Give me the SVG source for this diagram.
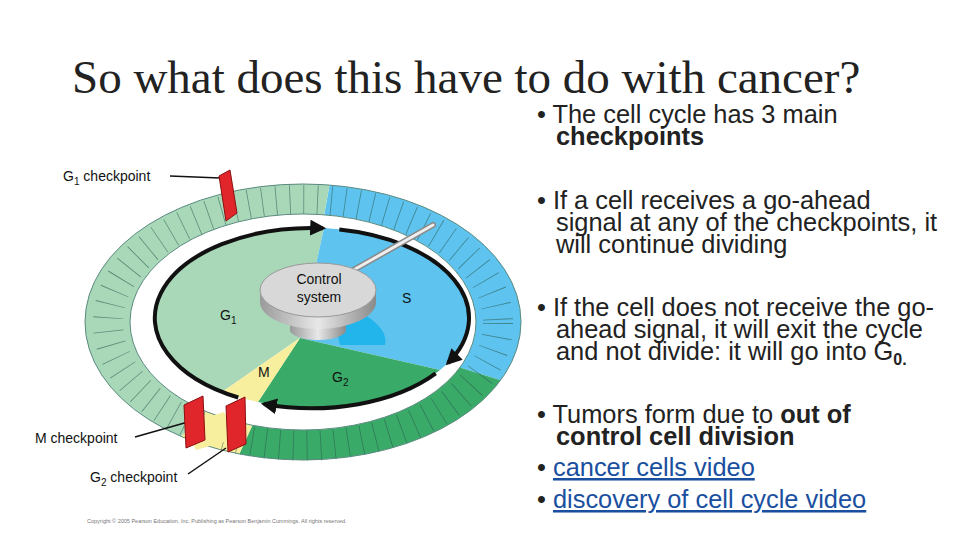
<svg xmlns="http://www.w3.org/2000/svg" width="960" height="540" viewBox="0 0 960 540">
<defs>
<style>
.t{font-family:"Liberation Sans",Arial,sans-serif;font-size:25.4px;fill:#222}
.b{font-weight:bold}
.lk{fill:#1a4fa0;text-decoration:underline}
.l{font-family:"Liberation Sans",Arial,sans-serif;font-size:14px;fill:#111}
.lead{stroke:#111;stroke-width:1.5;fill:none}
.flag{fill:#e0262a;stroke:#8a1010;stroke-width:1}
.arc{fill:none;stroke:#111;stroke-width:4}
</style>
<marker id="ah" viewBox="0 0 10 10" refX="8" refY="5" markerWidth="4" markerHeight="4" orient="auto"><path d="M0,0 L10,5 L0,10 Z" fill="#111"/></marker>
<linearGradient id="cyl" x1="0" x2="1"><stop offset="0" stop-color="#9a9a9a"/><stop offset="0.5" stop-color="#e8e8e8"/><stop offset="1" stop-color="#8a8a8a"/></linearGradient>
</defs>
<rect width="960" height="540" fill="#fff"/>
<text x="72" y="93" font-family="Liberation Serif,serif" font-size="47" fill="#222">So what does this have to do with cancer?</text>

<g id="ring">
<path d="M329.6,185 A218,138 0 0 1 500.6,380.3 L459.8,367.6 A173,108 0 0 0 324.1,214.8 Z" fill="#5ec3ee"/>
<path d="M500.6,380.3 A218,138 0 0 1 239.3,454 L252.4,425.3 A173,108 0 0 0 459.8,367.6 Z" fill="#3aaa68"/>
<path d="M239.3,454 A218,138 0 0 1 181.1,436.4 L206.3,411.5 A173,108 0 0 0 252.4,425.3 Z" fill="#f7ee9e"/>
<path d="M181.1,436.4 A218,138 0 0 1 329.6,185 L324.1,214.8 A173,108 0 0 0 206.3,411.5 Z" fill="#a8d8b8"/>
<ellipse cx="303" cy="323" rx="195" ry="123" fill="none" stroke="#2a5a50" stroke-width="30" stroke-dasharray="0.8 13" opacity="0.6"/>
<ellipse cx="303" cy="322" rx="218" ry="138" fill="none" stroke="#5a8a80" stroke-width="1"/>
<ellipse cx="303" cy="322" rx="173" ry="108" fill="#fff" stroke="#5a8a80" stroke-width="1"/>
</g>

<g id="pie">
<path d="M300,338 L222,392 A157,90 0 0 1 324,228 Z" fill="#a8d8b8"/>
<path d="M300,338 L324,228 A157,90 0 0 1 440,370 Z" fill="#5ec3ee"/>
<path d="M300,338 L440,370 A157,90 0 0 1 258,402 Z" fill="#3aaa68"/>
<path d="M300,338 L258,402 A157,90 0 0 1 222,392 Z" fill="#f7ee9e"/>
<path d="M330,300 Q390,320 385,345 L340,345 Z" fill="#22b5ec"/>
</g>

<g id="connectors">
<path class="arc" d="M238.3,397.5 A157,90 0 0 1 323,228.2" marker-end="url(#ah)"/>
<path class="arc" d="M339.3,229.4 A157,90 0 0 1 448,363" marker-end="url(#ah)"/>
<path class="arc" d="M435.7,373.4 A157,90 0 0 1 264,404" marker-end="url(#ah)"/>
<path class="lead" d="M170,176 L220,178"/>
<path class="lead" d="M135,437 L195,420"/>
<path class="lead" d="M188,474 L226,448"/>
</g>

<g id="control">
<line x1="350" y1="272" x2="433" y2="225" stroke="#888" stroke-width="6" stroke-linecap="round"/>
<line x1="350" y1="272" x2="433" y2="225" stroke="#eee" stroke-width="3" stroke-linecap="round"/>
<path d="M290,312 L290,330 A28,10 0 0 0 346,330 L346,312 Z" fill="url(#cyl)"/>
<path d="M260,290 L260,302 A58,27 0 0 0 376,302 L376,290 Z" fill="url(#cyl)"/>
<ellipse cx="318" cy="290" rx="58" ry="27" fill="#d8d8d8" stroke="#999" stroke-width="1"/>
<text class="l" x="319" y="284" text-anchor="middle">Control</text>
<text class="l" x="319" y="302" text-anchor="middle">system</text>
</g>

<g id="labels">
<text class="l" x="220" y="320">G<tspan font-size="10" dy="4">1</tspan></text>
<text class="l" x="402" y="303">S</text>
<text class="l" x="258" y="377">M</text>
<text class="l" x="332" y="382">G<tspan font-size="10" dy="4">2</tspan></text>
<text class="l" x="63" y="181">G<tspan font-size="10" dy="4">1</tspan><tspan dy="-4"> checkpoint</tspan></text>
<text class="l" x="35" y="443">M checkpoint</text>
<text class="l" x="90" y="482">G<tspan font-size="10" dy="4">2</tspan><tspan dy="-4"> checkpoint</tspan></text>
<text x="87" y="523" font-family="Liberation Sans,sans-serif" font-size="5.5" fill="#777">Copyright © 2005 Pearson Education, Inc. Publishing as Pearson Benjamin Cummings. All rights reserved.</text>
</g>

<g id="checkpoints">
<path class="flag" d="M219,176 L230,170 L237,213 L226,221 Z" fill="#e8503a"/>
<path d="M184,425 L224,412 L238,438 L196,450 Z" fill="#f7ee9e"/>
<path class="flag" d="M184,405 L203,396 L205,440 L186,448 Z"/>
<path class="flag" d="M226,406 L245,397 L246,444 L228,452 Z"/>
</g>

<g id="text">
<text class="t" x="537" y="123">• The cell cycle has 3 main</text>
<text class="t b" x="556" y="145">checkpoints</text>
<text class="t" x="537" y="209">• If a cell receives a go-ahead</text>
<text class="t" x="556" y="231">signal at any of the checkpoints, it</text>
<text class="t" x="556" y="253">will continue dividing</text>
<text class="t" x="537" y="316">• If the cell does not receive the go-</text>
<text class="t" x="556" y="338">ahead signal, it will exit the cycle</text>
<text class="t" x="556" y="360">and not divide: it will go into G<tspan font-size="16" dy="5" class="b">0.</tspan></text>
<text class="t" x="537" y="423">• Tumors form due to <tspan class="b">out of</tspan></text>
<text class="t b" x="556" y="445">control cell division</text>
<text class="t" x="537" y="476">• <tspan class="lk">cancer cells video</tspan></text>
<text class="t" x="537" y="508">• <tspan class="lk">discovery of cell cycle video</tspan></text>
</g>
</svg>
